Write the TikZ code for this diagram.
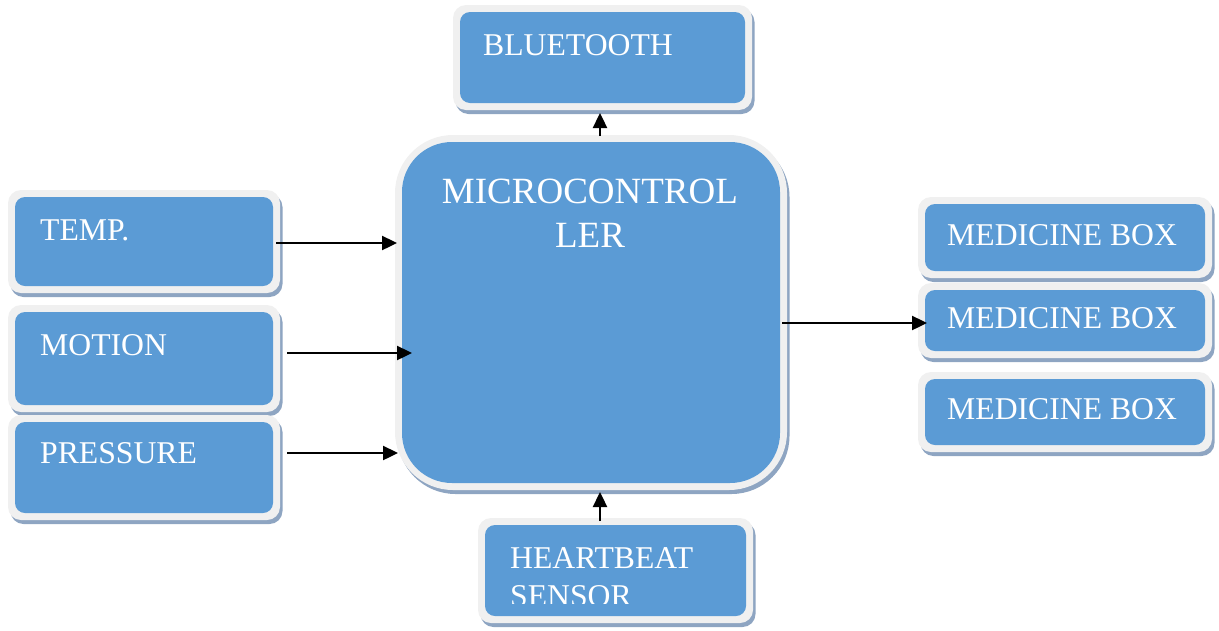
\documentclass[tikz,border=0pt]{standalone}
\usepackage{fontspec}
\setmainfont{Liberation Serif}
\usetikzlibrary{arrows.meta,calc,shadows}

\definecolor{boxblue}{HTML}{5B9BD5}
\definecolor{rimgray}{HTML}{F0F0F0}
\definecolor{shadowc}{HTML}{8EA5C2}

\tikzset{
  panel/.style={rectangle, rounded corners=#1, fill=rimgray, draw=none,
    inner sep=0pt, outer sep=0pt,
    drop shadow={shadow xshift=2.5pt, shadow yshift=-4pt, fill=shadowc, opacity=1}},
  panel/.default=13pt,
  innerfill/.style={path picture={
    \fill[boxblue, rounded corners=#1]
      ($(path picture bounding box.south west)+(7,-7)$) rectangle
      ($(path picture bounding box.north east)+(-7,7)$);}},
  innerfill/.default=10pt,
  lbl/.style={text=white, inner sep=0pt, font=\fontsize{31.7}{38}\selectfont},
  biglbl/.style={text=white, inner sep=0pt, font=\fontsize{37}{44}\selectfont},
  arr/.style={line width=2.4pt, -{Triangle[length=15pt,width=14pt]}}
}

\begin{document}
\begin{tikzpicture}[x=1pt,y=-1pt]
\useasboundingbox (0,0) rectangle (1219,630);

% boxes: outer rim with inner blue panel
\node[panel, innerfill, minimum width=272, minimum height=103] (temp) at (144,241.5) {};
\node[panel, innerfill, minimum width=272, minimum height=107] (motion) at (144,358.5) {};
\node[panel, innerfill, minimum width=272, minimum height=105] (press) at (144,467.5) {};
\node[panel=58pt, innerfill=50pt, minimum width=392, minimum height=355] (mcu) at (591,312.5) {};
\node[panel, innerfill, minimum width=299, minimum height=105] (bt) at (602.5,57.5) {};
\node[panel, innerfill, minimum width=275, minimum height=105] (hb) at (615.5,570.5) {};
\node[panel, innerfill, minimum width=294, minimum height=81] (med1) at (1065,237.5) {};
\node[panel, innerfill, minimum width=294, minimum height=75] (med2) at (1065,320.5) {};
\node[panel, innerfill, minimum width=294, minimum height=80] (med3) at (1065,412) {};

% labels
\node[lbl, anchor=base west] (tempL) at (40,240) {TEMP.};
\node[lbl, anchor=base west] (motionL) at (40,355) {MOTION};
\node[lbl, anchor=base west] (pressL) at (40,463) {PRESSURE};
\node[lbl, anchor=base west] (btL) at (483,55) {BLUETOOTH};
\node[biglbl, anchor=base] (mcuL1) at (590,203) {MICROCONTROL};
\node[biglbl, anchor=base] (mcuL2) at (590,247) {LER};
\node[lbl, anchor=base west] (med1L) at (947,245) {MEDICINE BOX};
\node[lbl, anchor=base west] (med2L) at (947,328) {MEDICINE BOX};
\node[lbl, anchor=base west] (med3L) at (947,419) {MEDICINE BOX};
\begin{scope}
  \clip (0,0) rectangle (1219,603);
  \node[lbl, anchor=base west] (hbL1) at (510,568) {HEARTBEAT};
  \node[lbl, anchor=base west] (hbL2) at (510,606) {SENSOR};
\end{scope}

% connectors
\draw[arr] ($(temp.east)+(-4,1.5)$) -- ($(mcu.west |- temp.east)+(2,1.5)$);
\draw[arr] ($(motion.east)+(7,-5.5)$) -- ($(mcu.west |- motion.east)+(17,-5.5)$);
\draw[arr] ($(press.east)+(7,-14.5)$) -- ($(mcu.west |- press.east)+(3,-14.5)$);
\draw[arr] ($(mcu.north)+(9,1)$) -- ($(bt.south)+(-2.5,3)$);
\draw[arr] ($(hb.north)+(-15.5,3)$) -- ($(mcu.south)+(9,2)$);
\draw[arr] ($(mcu.east |- med2.west)+(-5,2.5)$) -- ($(med2.west)+(9,2.5)$);
\end{tikzpicture}
\end{document}
